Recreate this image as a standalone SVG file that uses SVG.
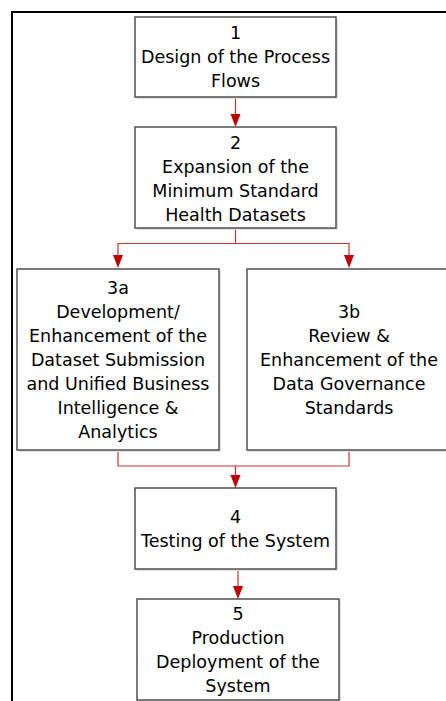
<svg xmlns="http://www.w3.org/2000/svg" width="446" height="701" viewBox="0 0 446 701">
<style>
.box{fill:#fff;stroke:#505050;stroke-width:1.5}
.sh{fill:#e0e0e0}
.t{font-family:"DejaVu Sans",Verdana,sans-serif;font-size:17.5px;fill:#000;text-anchor:middle}
.c{fill:none;stroke:#c83030;stroke-width:1.2}
.ah{fill:#c00000}
</style>
<rect width="446" height="701" fill="#fff"/>
<path d="M12,701 V12 H446" fill="none" stroke="#000" stroke-width="2"/>
<g id="connectors">
<path class="c" d="M235.5,97 V114"/><path class="ah" d="M230.5,114 H240.5 L235.5,127 Z"/>
<path class="c" d="M235.5,228 V243.5 M118,255 V243.5 H349 V255"/>
<path class="ah" d="M113,255 H123 L118,268 Z"/>
<path class="ah" d="M344,255 H354 L349,268 Z"/>
<path class="c" d="M118,450 V466 H349 V450 M235.5,466 V475"/>
<path class="ah" d="M230.5,475 H240.5 L235.5,488 Z"/>
<path class="c" d="M238,569 V586"/><path class="ah" d="M233,586 H243 L238,599 Z"/>
</g>
<g id="n1">
<rect class="sh" x="137" y="19" width="201" height="80"/>
<rect class="box" x="135" y="17" width="201" height="80"/>
<text class="t" x="235.5" y="39">1</text>
<text class="t" x="235.5" y="63">Design of the Process</text>
<text class="t" x="235.5" y="87">Flows</text>
</g>
<g id="n2">
<rect class="sh" x="137" y="129" width="201" height="101"/>
<rect class="box" x="135" y="127" width="201" height="101"/>
<text class="t" x="235.5" y="149">2</text>
<text class="t" x="235.5" y="173">Expansion of the</text>
<text class="t" x="235.5" y="197">Minimum Standard</text>
<text class="t" x="235.5" y="221">Health Datasets</text>
</g>
<g id="n3a">
<rect class="sh" x="19" y="271" width="202" height="181"/>
<rect class="box" x="17" y="269" width="202" height="181"/>
<text class="t" x="118" y="294">3a</text>
<text class="t" x="118" y="318">Development/</text>
<text class="t" x="118" y="342">Enhancement of the</text>
<text class="t" x="118" y="366">Dataset Submission</text>
<text class="t" x="118" y="390">and Unified Business</text>
<text class="t" x="118" y="414">Intelligence &amp;</text>
<text class="t" x="118" y="438">Analytics</text>
</g>
<g id="n3b">
<rect class="sh" x="249" y="271" width="205" height="181"/>
<rect class="box" x="247" y="269" width="205" height="181"/>
<text class="t" x="349" y="318">3b</text>
<text class="t" x="349" y="342">Review &amp;</text>
<text class="t" x="349" y="366">Enhancement of the</text>
<text class="t" x="349" y="390">Data Governance</text>
<text class="t" x="349" y="414">Standards</text>
</g>
<g id="n4">
<rect class="sh" x="137" y="490" width="201" height="81"/>
<rect class="box" x="135" y="488" width="201" height="81"/>
<text class="t" x="235.5" y="523">4</text>
<text class="t" x="235.5" y="547">Testing of the System</text>
</g>
<g id="n5">
<rect class="sh" x="139" y="601" width="202" height="101"/>
<rect class="box" x="137" y="599" width="202" height="101"/>
<text class="t" x="238" y="620">5</text>
<text class="t" x="238" y="644">Production</text>
<text class="t" x="238" y="668">Deployment of the</text>
<text class="t" x="238" y="692">System</text>
</g>
</svg>
